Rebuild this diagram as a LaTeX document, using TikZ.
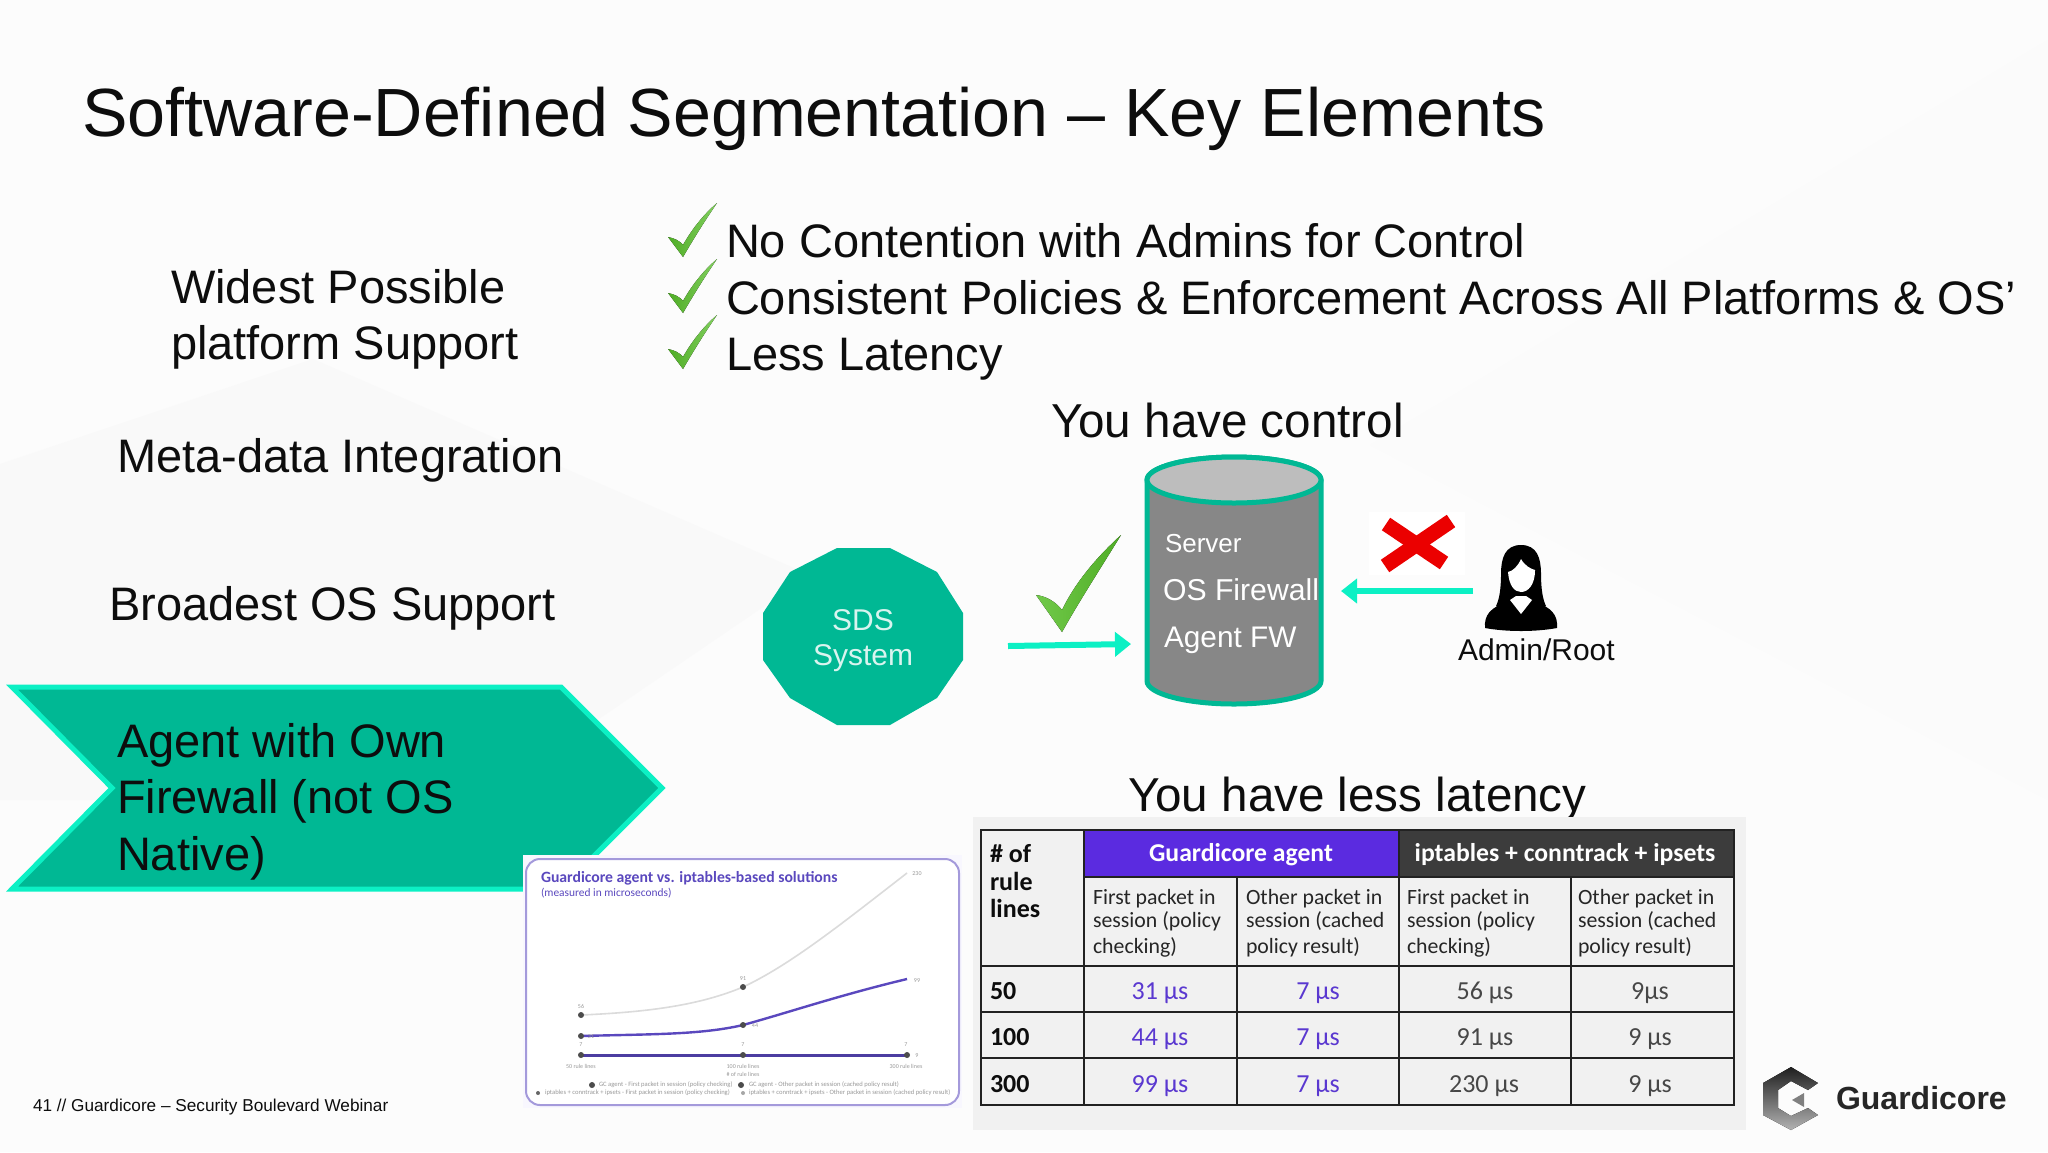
\documentclass[tikz,border=0pt]{standalone}
\usepackage{fontspec}
\setmainfont{Liberation Sans}
\newfontfamily\tabfont{Carlito}
\usetikzlibrary{arrows.meta}
\definecolor{teal}{HTML}{00B894}
\definecolor{mint}{HTML}{0CF0C4}
\definecolor{gcpurple}{HTML}{5B2BE0}
\definecolor{valpurple}{HTML}{5A38D0}
\definecolor{chartpurple}{HTML}{5A48BE}
\definecolor{tabdark}{HTML}{3C3C3C}
\definecolor{tabline}{HTML}{222222}
\definecolor{checkgreen}{HTML}{58C02A}
\newcommand{\fsz}[1]{\fontsize{#1}{#1}\selectfont}
\newcommand{\smallcheck}[1]{%
  \fill[left color=checkgreen!90!black,right color=checkgreen!75!white,shift={(0,#1)}]
    (668,237) .. controls (674,238) and (680,241) .. (683,245)
    .. controls (692,229) and (704,214) .. (717,203)
    .. controls (706,219) and (694,238) .. (683,257) -- cycle;}
\tikzset{
  txt/.style={inner sep=0pt,outer sep=0pt,anchor=base west,text=black!95,align=left},
  mid/.style={inner sep=0pt,outer sep=0pt,anchor=base},
  big/.style={txt,font=\fsz{23.5}},
  head/.style={txt,font=\fsz{23.8}},
  hdcell/.style={mid,text=white,font=\tabfont\bfseries\fsz{12.85}},
  subcell/.style={txt,text=black!85,font=\tabfont\fsz{10.9}},
  rowhead/.style={txt,font=\tabfont\bfseries\fsz{13}},
  gcval/.style={mid,text=valpurple,font=\tabfont\fsz{13}},
  ipval/.style={mid,text=black!72,font=\tabfont\fsz{13}},
  srv/.style={txt,text=white},
  tabrule/.style={draw=tabline,line width=1.3pt},
  flow/.style={draw=mint,line width=3pt,-{Triangle[length=8pt,width=12pt]}},
  tiny/.style={mid,text=black!40,font=\tabfont\fsz{3}},
  legend/.style={txt,text=black!40,font=\tabfont\fsz{3.3}},
  pt/.style={fill=black!70,circle,inner sep=0pt,minimum size=3pt},
}
\begin{document}
\begin{tikzpicture}[x=0.5pt,y=-0.5pt]
\useasboundingbox (0,0) rectangle (2048,1152);
% background
\fill[white!99!black] (0,0) rectangle (2048,1152);
\fill[white!97.6!black] (0,464) -- (313,359) -- (810,575) -- (480,800) -- (0,800) -- cycle;
\fill[white!98.4!black] (2048,40) -- (1370,445) -- (2048,800) -- cycle;

% title
\node[txt,font=\fsz{34.1}] (title) at (82,136) {Software-Defined Segmentation – Key Elements};

% bullets
\smallcheck{0}\smallcheck{56}\smallcheck{112}
\node[big] (b1) at (726,257) {No Contention with Admins for Control};
\node[big] (b2) at (726,314) {Consistent Policies \& Enforcement Across All Platforms \& OS’};
\node[big] (b3) at (726,370) {Less Latency};

% left list
\node[big] (l1a) at (171,303) {Widest Possible};
\node[big] (l1b) at (171,359) {platform Support};
\node[big] (l2) at (117,472) {Meta-data Integration};
\node[big] (l3) at (109,620) {Broadest OS Support};

% chevron
\draw[fill=teal,draw=mint,line width=2.5pt,miter limit=10]
  (12,687) -- (561,687) -- (662,788) -- (561,889) -- (12,889) -- (112,788) -- cycle;
\node[big] (a1) at (117,757) {Agent with Own};
\node[big] (a2) at (117,813) {Firewall (not OS};
\node[big] (a3) at (117,870) {Native)};

% headings
\node[head] (h1) at (1051,437) {You have control};
\node[head] (h2) at (1128,811) {You have less latency};

% SDS
\fill[teal] (837,548) -- (890,548) -- (937,572) -- (963,613) -- (963,660) -- (937,698) -- (890,725)
  -- (837,725) -- (790,698) -- (763,660) -- (763,613) -- (790,572) -- cycle;
\node[mid,text=white!85!teal,font=\fsz{15}] (sds1) at (863,630) {SDS};
\node[mid,text=white!85!teal,font=\fsz{15}] (sds2) at (863,665) {System};

% server cylinder
\draw[fill=black!47,draw=teal,line width=2.5pt]
  (1147,480) -- (1147,681) arc[start angle=180,end angle=0,x radius=87,y radius=23]
  -- (1321,480) arc[start angle=0,end angle=-180,x radius=87,y radius=23] -- cycle;
\draw[fill=black!26,draw=teal,line width=2.5pt] (1234,480) ellipse[x radius=87,y radius=23];
\node[srv,font=\fsz{13}] (s1) at (1165,552) {Server};
\node[srv,font=\fsz{15.1}] (s2) at (1163,600) {OS Firewall};
\node[srv,font=\fsz{14.9}] (s3) at (1164,647) {Agent FW};

% big check
\fill[left color=checkgreen!85!white,right color=checkgreen!90!black]
  (1036,595) .. controls (1046,596) and (1056,602) .. (1062,610)
  .. controls (1076,581) and (1098,556) .. (1121,535)
  .. controls (1102,566) and (1080,600) .. (1062,632) -- cycle;

% flows
\coordinate (fa) at (1008,646);
\coordinate (fb) at (1131,644);
\draw[flow] (fa) -- (fb);
\coordinate (fc) at (1473,591);
\coordinate (fd) at (1341,591);
\draw[flow] (fc) -- (fd);

% red cross
\fill[white] (1369,512) rectangle (1465,575);
\draw[red!92!black,line width=7.5pt] (1386,524) -- (1444,563);
\draw[red!92!black,line width=7.5pt] (1451,521) -- (1385,566);

% admin icon
\fill[black] (1521,545) .. controls (1505,545) and (1501,558) .. (1501,574)
  .. controls (1501,590) and (1499,600) .. (1496,606) -- (1546,606)
  .. controls (1543,600) and (1541,590) .. (1541,574)
  .. controls (1541,558) and (1537,545) .. (1521,545) -- cycle;
\fill[black] (1485,628) .. controls (1484,615) and (1490,608) .. (1508,601) -- (1534,601)
  .. controls (1552,608) and (1558,615) .. (1557,628)  .. controls (1535,632) and (1507,632) .. (1485,628) -- cycle;
\fill[white] (1521,559) .. controls (1525,566) and (1531,569) .. (1535,570)
  .. controls (1535,585) and (1528,592) .. (1521,592)
  .. controls (1514,592) and (1509,585) .. (1508,572)
  .. controls (1513,571) and (1518,566) .. (1521,559) -- cycle;
\fill[white] (1510,600) -- (1521,614) -- (1532,600) -- (1526,596) -- (1516,596) -- cycle;
\node[txt,font=\fsz{15}] (adm) at (1458,660) {Admin/Root};

% chart card
\fill[white!96!gcpurple] (523,855) rectangle (962,1108);
\draw[fill=white,draw=chartpurple!55!white,line width=1pt,rounded corners=7pt] (526,859) rectangle (959,1105);
\node[txt,text=chartpurple,font=\tabfont\bfseries\fsz{7.85}] (ct) at (541,882) {Guardicore agent vs. iptables-based solutions};
\node[txt,text=chartpurple,font=\tabfont\fsz{5.7}] (cs) at (541,896) {(measured in microseconds)};
\draw[black!14,line width=.8pt] (581,1015) .. controls (650,1012) and (700,1005) .. (743,987)
  .. controls (790,965) and (840,925) .. (907,873);
\draw[chartpurple,line width=1.2pt] (581,1036) .. controls (650,1034) and (700,1035) .. (743,1025)
  .. controls (790,1012) and (840,995) .. (907,979);
\draw[chartpurple!85!black,line width=1.5pt] (581,1055) -- (907,1055);
\foreach \n/\x/\y in {p1/581/1015,p2/743/987,p3/581/1036,p4/743/1025,p5/581/1055,p6/743/1055,p7/907/1055}
  \node[pt] (\n) at (\x,\y) {};
\node[tiny] (d1) at (581,1008) {56};
\node[tiny] (d2) at (743,980) {91};
\node[tiny] (d3) at (917,875) {230};
\node[tiny] (d4) at (917,982) {99};
\node[tiny] (d5) at (591,1038) {31};
\node[tiny] (d6) at (755,1027) {44};
\node[tiny] (d7) at (581,1046) {7};
\node[tiny] (d8) at (743,1046) {7};
\node[tiny] (d9) at (906,1046) {7};
\node[tiny] (d10) at (917,1057) {9};
\node[tiny] (x1) at (581,1068) {50 rule lines};
\node[tiny] (x2) at (743,1068) {100 rule lines};
\node[tiny] (x3) at (906,1068) {300 rule lines};
\node[tiny] (x4) at (743,1076) {\# of rule lines};
\node[pt] (m1) at (592,1085) {};
\node[pt] (m2) at (741,1085) {};
\node[pt,fill=black!60,minimum size=2pt] (m3) at (538,1093) {};
\node[pt,fill=black!35,minimum size=2pt] (m4) at (743,1093) {};
\node[legend] (g1) at (599,1086) {GC agent - First packet in session (policy checking)};
\node[legend] (g2) at (749,1086) {GC agent - Other packet in session (cached policy result)};
\node[legend] (g3) at (545,1094) {iptables + conntrack + ipsets - First packet in session (policy checking)};
\node[legend] (g4) at (749,1094) {iptables + conntrack + ipsets - Other packet in session (cached policy result)};

% table
\fill[black!5.5] (973,817) rectangle (1746,1130);
\fill[gcpurple] (1084,830) rectangle (1399,877);
\fill[tabdark] (1399,830) rectangle (1734,877);
\draw[tabrule] (981,830) rectangle (1734,1105);
\foreach \y in {966,1012,1058} \draw[tabrule] (981,\y) -- (1734,\y);
\draw[tabrule] (1084,877) -- (1734,877);
\foreach \x in {1084,1399} \draw[tabrule] (\x,830) -- (\x,1105);
\foreach \x in {1237,1571} \draw[tabrule] (\x,877) -- (\x,1105);
\node[rowhead] (r0a) at (990,862) {\# of};
\node[rowhead] (r0b) at (990,890) {rule};
\node[rowhead] (r0c) at (990,917) {lines};
\node[hdcell] (hg) at (1241,861) {Guardicore agent};
\node[hdcell] (hi) at (1565,861) {iptables + conntrack + ipsets};
\node[subcell] (ca1) at (1093,904) {First packet in};
\node[subcell] (ca2) at (1093,927) {session (policy};
\node[subcell] (ca3) at (1093,953) {checking)};
\node[subcell] (cb1) at (1246,904) {Other packet in};
\node[subcell] (cb2) at (1246,927) {session (cached};
\node[subcell] (cb3) at (1246,953) {policy result)};
\node[subcell] (cc1) at (1407,904) {First packet in};
\node[subcell] (cc2) at (1407,927) {session (policy};
\node[subcell] (cc3) at (1407,953) {checking)};
\node[subcell] (cd1) at (1578,904) {Other packet in};
\node[subcell] (cd2) at (1578,927) {session (cached};
\node[subcell] (cd3) at (1578,953) {policy result)};
\node[rowhead] (r1) at (990,999) {50};
\node[rowhead] (r2) at (990,1045) {100};
\node[rowhead] (r3) at (990,1092) {300};
\node[gcval] (v11) at (1160,999) {31 µs};
\node[gcval] (v12) at (1318,999) {7 µs};
\node[ipval] (v13) at (1485,999) {56 µs};
\node[ipval] (v14) at (1650,999) {9µs};
\node[gcval] (v21) at (1160,1045) {44 µs};
\node[gcval] (v22) at (1318,1045) {7 µs};
\node[ipval] (v23) at (1485,1045) {91 µs};
\node[ipval] (v24) at (1650,1045) {9 µs};
\node[gcval] (v31) at (1160,1092) {99 µs};
\node[gcval] (v32) at (1318,1092) {7 µs};
\node[ipval] (v33) at (1484,1092) {230 µs};
\node[ipval] (v34) at (1650,1092) {9 µs};

% footer
\node[txt,font=\fsz{8.6}] (foot) at (33,1111) {41 // Guardicore – Security Boulevard Webinar};

% logo
\fill[top color=black!88,bottom color=black!30]
  (1791,1067) -- (1818,1083) -- (1808,1090) -- (1791,1081) -- (1778,1090) -- (1778,1108)
  -- (1791,1116) -- (1808,1108) -- (1818,1115) -- (1791,1130) -- (1763,1115) -- (1763,1083) -- cycle;
\fill[black!50] (1804,1093) -- (1792,1100) -- (1804,1107) -- cycle;
\node[txt,text=black!85,font=\bfseries\fsz{16}] (logo) at (1836,1109) {Guardicore};
\end{tikzpicture}
\end{document}
